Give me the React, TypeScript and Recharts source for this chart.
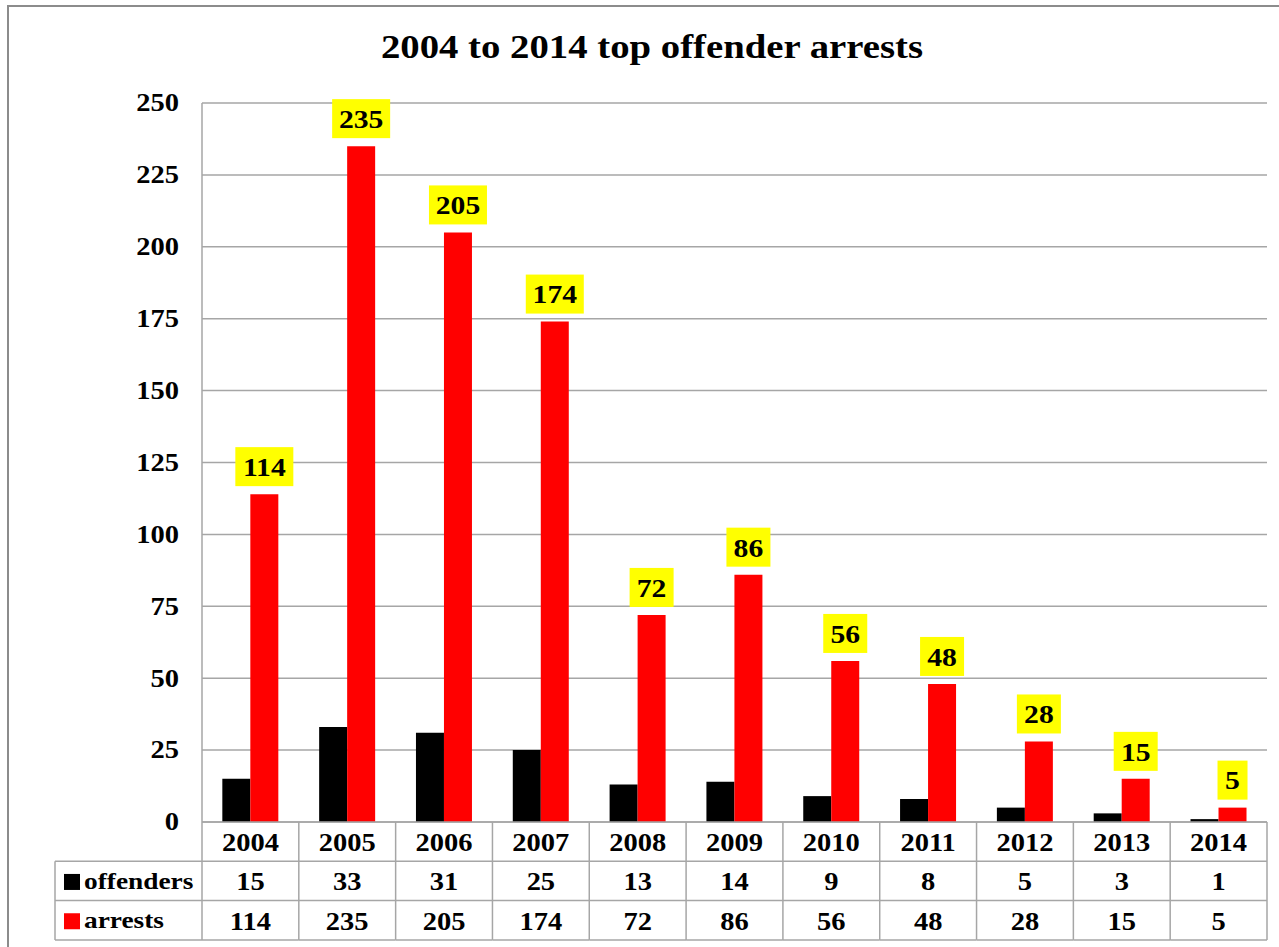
import React from "react";
import { Bar, BarChart, CartesianGrid, LabelList, XAxis, YAxis } from "recharts";

// Valeurs
const YEARS = ["2004", "2005", "2006", "2007", "2008", "2009", "2010", "2011", "2012", "2013", "2014"];
const OFFENDERS = [15, 33, 31, 25, 13, 14, 9, 8, 5, 3, 1];
const ARRESTS = [114, 235, 205, 174, 72, 86, 56, 48, 28, 15, 5];
const Y_TICKS = [0, 25, 50, 75, 100, 125, 150, 175, 200, 225, 250];
const TITLE = "2004 to 2014 top offender arrests";

const W = 1279, H = 947;
const PLOT_L = 202, PLOT_R = 1267, PLOT_T = 103, AXIS_H = 125;
const BAND = (PLOT_R - PLOT_L) / YEARS.length;
const ROW = 39.3;
const LABEL_COL = 147;
const FONT = "'Liberation Serif', 'Times New Roman', serif";
const GRID = "#a6a6a6";
const SX = 1.14; // l'original est étiré horizontalement

const data = YEARS.map((y, i) => ({ year: y, offenders: OFFENDERS[i], arrests: ARRESTS[i] }));

// texte gras étiré en largeur
function SText({ x, y, anchor = "middle", size = 25, children }: any) {
  return (
    <g transform={`translate(${x},${y}) scale(${SX},1)`}>
      <text x={0} y={0} textAnchor={anchor} dominantBaseline="central" fontFamily={FONT}
            fontWeight="bold" fontSize={size} fill="#000">{children}</text>
    </g>
  );
}

// ticks de l'axe X = tableau de données (année / offenders / arrests)
function TableTick(props: any) {
  const { x, y, payload, index } = props;
  const h = BAND / 2;
  const ln = { stroke: GRID, strokeWidth: 1.5 };
  return (
    <g>
      <line x1={x - h} x2={x + h} y1={y + ROW} y2={y + ROW} {...ln} />
      <line x1={x - h} x2={x + h} y1={y + ROW * 2} y2={y + ROW * 2} {...ln} />
      <line x1={x - h} x2={x + h} y1={y + ROW * 3} y2={y + ROW * 3} {...ln} />
      <line x1={x + h} x2={x + h} y1={y} y2={y + ROW * 3} {...ln} />
      <SText x={x} y={y + ROW / 2 + 1}>{payload.value}</SText>
      <SText x={x} y={y + ROW * 1.5 + 1}>{OFFENDERS[index]}</SText>
      <SText x={x} y={y + ROW * 2.5 + 1}>{ARRESTS[index]}</SText>
      {index === 0 && (
        <g>
          <line x1={x - h} x2={x - h} y1={y} y2={y + ROW * 3} {...ln} />
          <line x1={x - h - LABEL_COL} x2={x - h} y1={y + ROW} y2={y + ROW} {...ln} />
          <line x1={x - h - LABEL_COL} x2={x - h} y1={y + ROW * 2} y2={y + ROW * 2} {...ln} />
          <line x1={x - h - LABEL_COL} x2={x - h} y1={y + ROW * 3} y2={y + ROW * 3} {...ln} />
          <line x1={x - h - LABEL_COL} x2={x - h - LABEL_COL} y1={y + ROW} y2={y + ROW * 3} {...ln} />
          <rect x={x - h - LABEL_COL + 9} y={y + ROW * 1.5 - 7} width={16} height={16} fill="#000" />
          <SText anchor="start" size={24} x={x - h - LABEL_COL + 29} y={y + ROW * 1.5}>offenders</SText>
          <rect x={x - h - LABEL_COL + 9} y={y + ROW * 2.5 - 7} width={16} height={16} fill="#ff0000" />
          <SText anchor="start" size={24} x={x - h - LABEL_COL + 29} y={y + ROW * 2.5}>arrests</SText>
        </g>
      )}
    </g>
  );
}

function YTick(props: any) {
  const { x, y, payload } = props;
  return <SText anchor="end" x={x} y={y} size={25}>{payload.value}</SText>;
}

// étiquette jaune au-dessus des barres rouges
function YellowLabel(props: any) {
  const { x, y, width, value } = props;
  const s = String(value);
  const bw = s.length * 14 + 16;
  const cx = x + width / 2;
  return (
    <g>
      <rect x={cx - bw / 2} y={y - 47} width={bw} height={39} fill="#ffff00" />
      <SText x={cx} y={y - 27} size={26}>{s}</SText>
    </g>
  );
}

export default function App() {
  return (
    <div style={{ position: "absolute", left: 0, top: 0, width: W, height: H, overflow: "hidden", background: "#fff" }}>
      <div style={{ position: "absolute", left: 7, top: 5, width: W + 40, height: H + 40, border: "2px solid #8c8c8c" }} />
      <div style={{ position: "absolute", left: 0, width: 1304, top: 27, textAlign: "center", fontFamily: FONT,
                    fontWeight: "bold", fontSize: 34, color: "#000", lineHeight: "40px",
                    transform: `scaleX(${SX})`, transformOrigin: "652px 0" }}>{TITLE}</div>
      <div style={{ position: "absolute", left: 0, top: 0 }}>
        <BarChart width={W} height={H} data={data} barGap={0} barCategoryGap="21%"
                  margin={{ top: PLOT_T, right: W - PLOT_R, left: 0, bottom: 0 }}>
          <CartesianGrid vertical={false} stroke={GRID} strokeWidth={1.5} />
          <XAxis dataKey="year" height={AXIS_H} tickSize={0} tickMargin={0} tickLine={false}
                 axisLine={{ stroke: GRID, strokeWidth: 1.5 }} tick={<TableTick />} interval={0} />
          <YAxis width={PLOT_L} domain={[0, 250]} ticks={Y_TICKS} tickSize={0} tickMargin={23} tickLine={false}
                 axisLine={{ stroke: GRID, strokeWidth: 1.5 }} tick={<YTick />} />
          <Bar dataKey="offenders" fill="#000000" isAnimationActive={false} />
          <Bar dataKey="arrests" fill="#ff0000" isAnimationActive={false}>
            <LabelList dataKey="arrests" content={<YellowLabel />} />
          </Bar>
        </BarChart>
      </div>
    </div>
  );
}
